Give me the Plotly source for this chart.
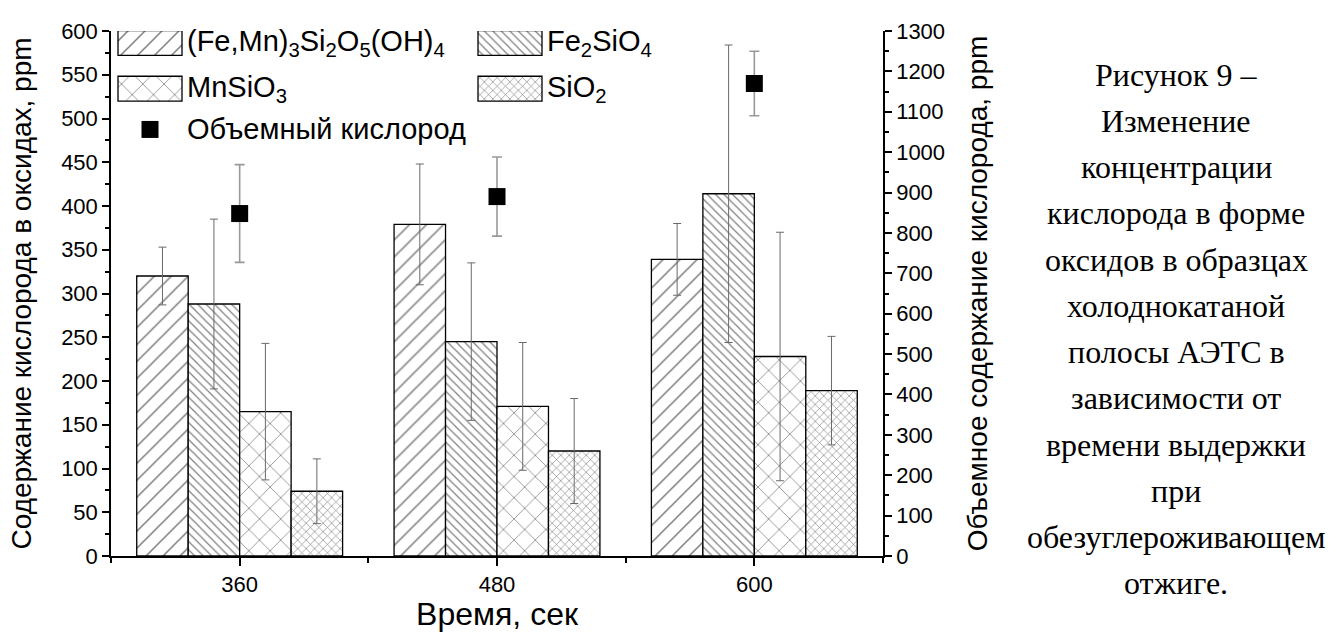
import plotly.graph_objects as go

# Holding time during decarburizing anneal, s
times = [360, 480, 600]

# Oxygen bound in oxides, ppm (left axis), with error half-widths
series_names = [
    "(Fe,Mn)<sub>3</sub>Si<sub>2</sub>O<sub>5</sub>(OH)<sub>4</sub>",
    "Fe<sub>2</sub>SiO<sub>4</sub>",
    "MnSiO<sub>3</sub>",
    "SiO<sub>2</sub>",
]
fe_mn_silicate = [320, 379, 339]
fe_mn_silicate_err = [33, 69, 41]
fe2sio4 = [288, 245, 414]
fe2sio4_err = [97, 90, 170]
mnsio3 = [165, 171, 228]
mnsio3_err = [78, 73, 142]
sio2 = [74, 120, 189]
sio2_err = [37, 60, 62]

# Bulk oxygen content, ppm (right axis)
bulk_name = "Объемный кислород"
bulk_oxygen = [848, 890, 1170]
bulk_oxygen_err = [121, 98, 80]

caption_lines = [
    "Рисунок 9 –",
    "Изменение",
    "концентрации",
    "кислорода в форме",
    "оксидов в образцах",
    "холоднокатаной",
    "полосы АЭТС в",
    "зависимости от",
    "времени выдержки",
    "при",
    "обезуглероживающем",
    "отжиге.",
]

values = [fe_mn_silicate, fe2sio4, mnsio3, sio2]
errors = [fe_mn_silicate_err, fe2sio4_err, mnsio3_err, sio2_err]
patterns = [
    dict(shape="/", size=12, solidity=0.13),
    dict(shape="\\", size=6, solidity=0.2),
    dict(shape="x", size=15, solidity=0.1),
    dict(shape="x", size=6, solidity=0.2),
]

SANS = "Liberation Sans, Arial, sans-serif"
SERIF = "Liberation Serif, Times New Roman, serif"
W, H = 1337, 632
PL, PR, PT, PB = 111, 883, 31, 559  # plot area in pixels


def paper_x(px):
    return (px - PL) / (PR - PL)


def paper_y(py):
    return (PB - py) / (PB - PT)


fig = go.Figure()

for name, vals, errs, pat in zip(series_names, values, errors, patterns):
    fig.add_trace(go.Bar(
        x=times, y=vals, name=name, showlegend=False,
        marker=dict(color="white", line=dict(color="black", width=1.3),
                    pattern=dict(fgcolor="black", bgcolor="white", **pat)),
        error_y=dict(type="data", array=errs, color="#6a6a6a", thickness=1, width=4),
    ))

fig.add_trace(go.Scatter(
    x=times, y=bulk_oxygen, yaxis="y2", mode="markers", name=bulk_name,
    showlegend=False,
    marker=dict(symbol="square", size=17, color="black"),
    error_y=dict(type="data", array=bulk_oxygen_err, color="#999",
                 thickness=1.6, width=5),
))

# Hand-built legend on a pixel-unit helper axis pair
LEG_X0, LEG_COL_STEP = 118, 360
LEG_ROWS = [43, 89, 130]
SW_W, SW_H = 64, 25
LEG_FONT = dict(family=SANS, size=29, color="black")
for i, (name, pat) in enumerate(zip(series_names, patterns)):
    col, row = i % 2, i // 2
    x_left = LEG_X0 + col * LEG_COL_STEP
    y_mid = LEG_ROWS[row]
    fig.add_trace(go.Bar(
        x=[x_left], y=[SW_H], base=[y_mid - SW_H / 2], width=[SW_W], offset=0,
        xaxis="x3", yaxis="y3", showlegend=False, hoverinfo="skip",
        marker=dict(color="white", line=dict(color="black", width=1.3),
                    pattern=dict(fgcolor="black", bgcolor="white", **pat)),
    ))
    fig.add_annotation(x=x_left + SW_W + 3, y=y_mid, xref="x3", yref="y3",
                       text=name, showarrow=False, xanchor="left",
                       yanchor="middle", font=LEG_FONT)

fig.add_trace(go.Scatter(
    x=[LEG_X0 + SW_W / 2], y=[LEG_ROWS[2]], xaxis="x3", yaxis="y3",
    mode="markers", showlegend=False, hoverinfo="skip",
    marker=dict(symbol="square", size=17, color="black"),
))
fig.add_annotation(x=LEG_X0 + SW_W + 3, y=LEG_ROWS[2], xref="x3", yref="y3",
                   text=bulk_name, showarrow=False, xanchor="left",
                   yanchor="middle", font=LEG_FONT)

# Figure caption on the right
CAP_X, CAP_Y0, CAP_STEP = 1176, 75, 46.5
for i, line in enumerate(caption_lines):
    fig.add_annotation(x=paper_x(CAP_X), y=paper_y(CAP_Y0 + i * CAP_STEP),
                       xref="paper", yref="paper", text=line, showarrow=False,
                       xanchor="center", yanchor="middle",
                       font=dict(family=SERIF, size=32, color="black"))

axis_common = dict(showline=True, linecolor="black", linewidth=1.5,
                   ticks="outside", tickcolor="black", tickwidth=1.5,
                   showgrid=False, zeroline=False,
                   tickfont=dict(family=SANS, size=22, color="black"))

fig.update_layout(
    width=W, height=H,
    margin=dict(l=PL, r=W - PR, t=PT, b=H - PB),
    paper_bgcolor="white", plot_bgcolor="white",
    barmode="group", bargap=0.2, bargroupgap=0,
    showlegend=False,
    xaxis=dict(range=[300, 660], tickmode="linear", tick0=360, dtick=120,
               ticklen=8,
               minor=dict(dtick=60, tick0=360, ticks="outside", ticklen=5,
                          tickcolor="black", tickwidth=1.5),
               title=dict(text="Время, сек", standoff=0,
                          font=dict(family=SANS, size=32, color="black")),
               **axis_common),
    yaxis=dict(range=[0, 600], tickmode="linear", tick0=0, dtick=50,
               ticklen=7,
               minor=dict(dtick=25, ticks="outside", ticklen=4,
                          tickcolor="black", tickwidth=1.5),
               title=dict(text="Содержание кислорода в оксидах, ppm", standoff=21,
                          font=dict(family=SANS, size=28, color="black")),
               **axis_common),
    yaxis2=dict(range=[0, 1300], tickmode="linear", tick0=0, dtick=100,
                ticklen=7, overlaying="y", side="right",
                minor=dict(dtick=50, ticks="outside", ticklen=4,
                           tickcolor="black", tickwidth=1.5),
                title=dict(text="Объемное содержание кислорода, ppm", standoff=23,
                           font=dict(family=SANS, size=28, color="black")),
                **axis_common),
    xaxis3=dict(range=[PL, PR], visible=False, anchor="y3", overlaying="x",
                fixedrange=True),
    yaxis3=dict(range=[PB, PT], visible=False, anchor="x3", overlaying="y",
                fixedrange=True),
)

fig.write_html("out.html")
